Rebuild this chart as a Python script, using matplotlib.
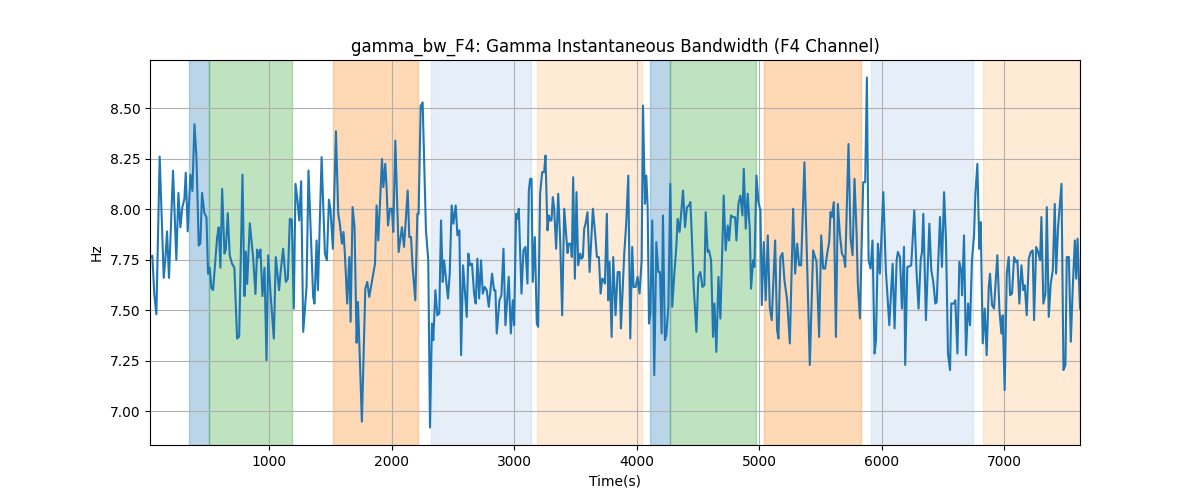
import matplotlib
matplotlib.use("Agg")
import matplotlib.pyplot as plt

# ---- data ----
time_s = [
    27, 46, 62, 79, 106, 139, 152, 166, 182, 215, 242, 259, 275, 291, 308, 319, 335, 357, 373, 390,
    406, 425, 438, 452, 471, 488, 501, 515, 528, 542, 575, 588, 602, 616, 635, 646, 662, 678, 697, 716,
    738, 755, 782, 798, 809, 820, 842, 869, 888, 902, 915, 929, 945, 962,
    978, 992, 1011, 1038, 1054, 1081, 1092, 1114, 1136, 1152, 1169, 1185, 1201, 1215, 1231, 1245, 1261,
    1278, 1305, 1321, 1359, 1370, 1387, 1398, 1428, 1455, 1471, 1488, 1501, 1520, 1545, 1564, 1577, 1594,
    1607, 1618, 1637, 1654, 1665, 1681, 1697, 1714, 1725, 1757, 1785, 1801, 1817, 1864, 1877, 1891,
    1921, 1932, 1948, 1959, 1970, 1986, 2002, 2013, 2030, 2057, 2084, 2101, 2131, 2144, 2158, 2171, 2193,
    2210, 2220, 2237, 2253, 2280, 2299, 2313, 2329, 2340, 2357, 2373, 2389, 2403, 2417, 2428, 2460, 2474,
    2490, 2504, 2523, 2537, 2553, 2567, 2583, 2613, 2626, 2640, 2656, 2673, 2686, 2700, 2714, 2730, 2744,
    2760, 2776, 2793, 2820, 2836, 2847, 2858,
    2880, 2896, 2913, 2929, 2956, 2973, 2989, 3000, 3016, 3027, 3038, 3060, 3076, 3092, 3109, 3120, 3131,
    3142, 3152, 3169, 3185, 3196, 3212, 3229, 3245, 3256, 3272, 3283, 3294, 3305, 3316, 3327, 3343, 3360,
    3376, 3392, 3409, 3436, 3447, 3463, 3471, 3482, 3496, 3509, 3523, 3539, 3550, 3561, 3572, 3583, 3599,
    3616, 3643, 3659, 3676, 3692, 3706, 3719, 3733, 3741, 3757, 3768, 3779, 3796, 3809,
    3828, 3845, 3861, 3872, 3899, 3915, 3932, 3948, 3964, 3975, 3992, 4008, 4024, 4041, 4052, 4068, 4079,
    4090, 4101, 4112, 4128, 4144, 4161, 4177, 4191, 4204, 4215, 4231, 4242, 4259, 4275, 4291, 4308, 4324,
    4335, 4351, 4362, 4379, 4395, 4411, 4428, 4439, 4450, 4466, 4488, 4504, 4520, 4537, 4553, 4564, 4580,
    4591, 4608, 4624, 4635, 4651, 4668, 4684, 4711, 4727, 4744, 4755,
    4771, 4787, 4804, 4815, 4831, 4847, 4864, 4875, 4891, 4907, 4924, 4934, 4951, 4962, 4978, 4994, 5011,
    5022, 5038, 5054, 5071, 5087, 5103, 5131, 5147, 5158, 5174, 5191, 5207, 5229, 5251, 5278, 5294, 5311,
    5327, 5343, 5370, 5398, 5414, 5441, 5469, 5490, 5507, 5523, 5539, 5556, 5572, 5583, 5594, 5610, 5627,
    5643, 5659, 5676, 5692, 5703,
    5730, 5747, 5763, 5779, 5796, 5806, 5823, 5850, 5866, 5880, 5894, 5910, 5926, 5943, 5954, 5970, 5986,
    6014, 6035, 6063, 6090, 6106, 6123, 6133, 6150, 6166, 6183, 6193, 6210, 6226, 6242, 6267, 6286, 6302,
    6319, 6330, 6341, 6362, 6390, 6406, 6422, 6439, 6450, 6477, 6493, 6510, 6526, 6542, 6559, 6569, 6591,
    6602, 6619, 6635, 6651,
    6657, 6673, 6689, 6706, 6722, 6738, 6755, 6766, 6782, 6798, 6809, 6826, 6842, 6858, 6875, 6885, 6902,
    6918, 6945, 6962, 6978, 6989, 7005, 7022, 7038, 7049, 7065, 7082, 7098, 7109, 7125, 7142, 7158, 7169,
    7185, 7202, 7218, 7234, 7245, 7262, 7278, 7294, 7305, 7321, 7338, 7349, 7365, 7381, 7398, 7414, 7425,
    7441, 7469, 7485, 7501, 7512, 7529, 7545, 7561, 7578, 7589, 7600, 7620,
]

bandwidth_hz = [
    7.76, 7.77, 7.58, 7.48, 8.26, 7.66, 7.75, 7.89, 7.66, 8.19, 7.75, 8.08, 7.91, 8.01, 8.05, 8.18, 7.89, 8.17, 8.09, 8.42,
    8.26, 7.82, 7.83, 8.08, 7.98, 7.96, 7.68, 7.71, 7.61, 7.60, 7.86, 7.91, 7.71, 8.10, 7.78, 7.80, 7.98, 7.77, 7.73, 7.71,
    7.36, 7.37, 8.17, 7.57, 7.79, 7.63, 7.93, 7.76, 7.58, 7.80, 7.76, 7.80, 7.57, 7.71,
    7.253, 7.772, 7.582, 7.360, 7.763, 7.599, 7.681, 7.804, 7.640, 7.656, 7.952, 7.947, 7.508, 8.125, 8.043, 7.944, 8.138,
    7.393, 7.615, 8.191, 7.566, 7.533, 7.845, 7.599, 8.257, 7.780, 7.747, 8.046, 7.994, 7.804, 8.385, 7.977, 7.928, 7.829,
    7.887, 7.780, 7.533, 7.763, 7.443, 8.010, 7.911, 7.339, 7.541, 6.949, 7.607, 7.640, 7.566, 7.730, 8.018, 7.845,
    8.248, 8.109, 8.224, 8.100, 7.919, 8.002, 8.002, 7.887, 8.339, 7.788, 7.911, 7.813, 8.092, 7.862, 7.862, 7.714, 7.549,
    7.977, 7.977, 8.512, 8.528, 7.895, 7.747, 6.920, 7.434, 7.352, 7.599, 7.475, 7.484, 7.944, 7.640, 7.747, 7.558, 7.681,
    8.018, 7.928, 8.018, 7.870, 7.895, 7.278, 7.722, 7.467, 7.780, 7.722, 7.730, 7.582, 7.533, 7.755, 7.558, 7.747, 7.582,
    7.615, 7.599, 7.517, 7.681, 7.599, 7.599, 7.385,
    7.549, 7.574, 7.804, 7.426, 7.665, 7.385, 7.549, 7.426, 7.977, 7.952, 8.002, 7.582, 7.796, 7.813, 7.632, 8.092, 8.150,
    8.150, 7.640, 7.862, 7.434, 7.418, 8.076, 8.183, 8.183, 8.265, 7.895, 7.969, 7.944, 7.944, 8.059, 8.002, 7.804, 8.076,
    7.845, 7.475, 8.002, 7.783, 7.829, 7.829, 7.763, 8.158, 7.656, 8.084, 7.722, 7.780, 7.755, 7.763, 7.903, 7.928, 7.985,
    7.689, 8.002, 7.895, 7.763, 7.763, 7.582, 7.656, 7.648, 7.632, 7.977, 7.549, 7.738, 7.368, 7.763,
    7.475, 7.689, 7.689, 7.410, 7.780, 7.928, 8.166, 7.360, 7.813, 7.615, 7.615, 7.665, 7.582, 7.747, 8.512, 8.026, 8.166,
    8.010, 7.434, 7.484, 7.944, 7.179, 7.837, 7.689, 7.689, 7.385, 7.969, 7.352, 7.377, 7.517, 8.125, 7.517, 7.681, 7.813,
    7.952, 7.887, 7.969, 8.092, 7.911, 8.010, 8.018, 8.035, 7.878, 7.615, 7.393, 7.665, 7.689, 7.615, 7.623, 7.985, 7.788,
    7.796, 7.747, 7.368, 7.533, 7.294, 7.665, 7.459, 8.067, 7.796, 7.919, 7.845,
    7.969, 7.960, 7.960, 7.845, 8.026, 8.067, 7.969, 8.199, 7.903, 8.076, 7.895, 7.607, 7.747, 7.714, 8.166, 8.035, 7.994,
    7.525, 7.837, 7.549, 7.870, 7.517, 7.451, 7.845, 7.401, 7.360, 7.763, 7.783, 7.648, 7.549, 7.336, 8.002, 7.681, 7.829,
    7.722, 7.722, 8.232, 7.582, 7.229, 7.796, 7.739, 7.368, 7.870, 7.706, 7.706, 7.780, 7.837, 7.985, 7.960, 8.035, 7.368,
    8.026, 7.878, 7.780, 7.763, 7.714,
    8.322, 7.854, 7.772, 8.150, 7.878, 7.632, 7.459, 8.133, 8.133, 8.651, 7.747, 7.706, 7.845, 7.286, 7.352, 7.829, 7.681,
    8.084, 7.697, 7.426, 7.730, 7.410, 7.747, 7.788, 7.763, 7.508, 7.813, 7.229, 7.714, 7.717, 7.722, 7.994, 7.681, 7.508,
    7.747, 7.788, 7.977, 7.451, 7.928, 7.697, 7.640, 7.533, 7.541, 7.961, 7.714, 8.084, 7.845, 7.286, 7.204, 7.533, 7.533,
    7.549, 7.286, 7.739, 7.689,
    7.574, 7.870, 7.278, 7.533, 7.426, 7.747, 7.870, 8.076, 8.224, 7.804, 7.936, 7.336, 7.508, 7.278, 7.615, 7.681, 7.525,
    7.508, 7.772, 7.500, 7.385, 7.475, 7.105, 7.681, 7.763, 7.574, 7.582, 7.763, 7.738, 7.747, 7.533, 7.722, 7.599, 7.623,
    7.475, 7.755, 7.788, 7.796, 7.451, 7.813, 7.788, 7.747, 7.961, 7.533, 7.582, 8.010, 7.467, 7.632, 7.697, 8.026, 7.681,
    7.911, 8.125, 7.204, 7.229, 7.763, 7.763, 7.344, 7.615, 7.845, 7.656, 7.854, 7.508,
]

# shaded segments
span_starts = [346, 509, 1523, 2324, 3188, 4106, 4272, 5038, 5913, 6826]
span_ends = [509, 1188, 2215, 3139, 4046, 4272, 4978, 5828, 6744, 7620]
span_colors = ["#1f77b4", "#2ca02c", "#ff7f0e", "#aec7e8", "#ffbb78",
               "#1f77b4", "#2ca02c", "#ff7f0e", "#aec7e8", "#ffbb78"]

fig, ax = plt.subplots(figsize=(12, 5), dpi=100)
for s, e, c in zip(span_starts, span_ends, span_colors):
    ax.axvspan(s, e, color=c, alpha=0.3)
ax.plot(time_s, bandwidth_hz, color="tab:blue", linewidth=1.5)
ax.set_xlim(time_s[0], time_s[-1])
ax.grid(True)
ax.set_title("gamma_bw_F4: Gamma Instantaneous Bandwidth (F4 Channel)")
ax.set_xlabel("Time(s)")
ax.set_ylabel("Hz")
fig.savefig("out.png", dpi=100)
